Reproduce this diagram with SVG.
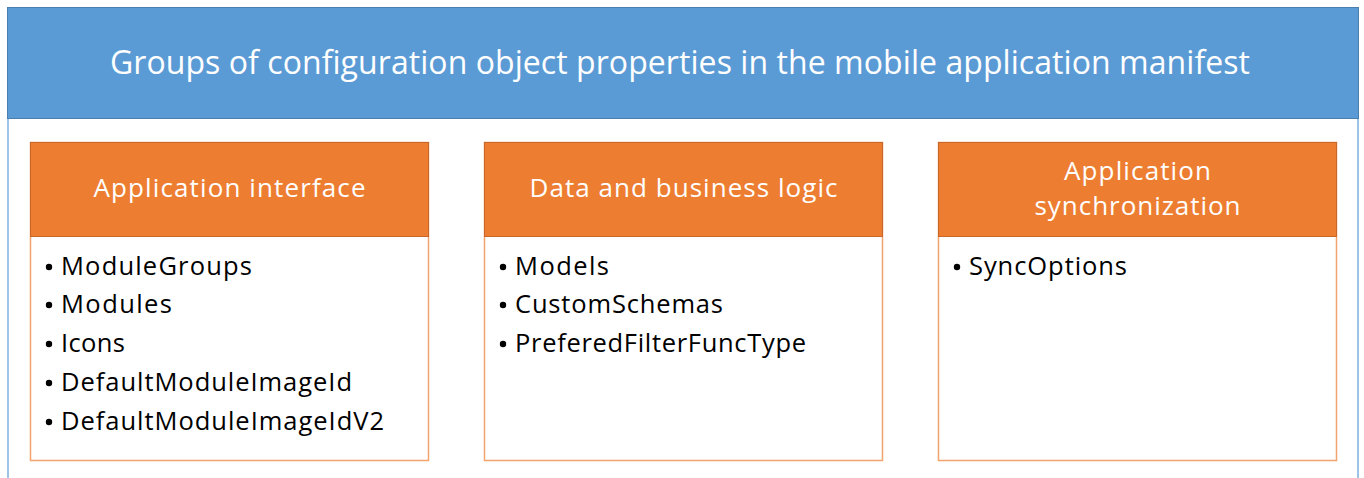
<svg xmlns="http://www.w3.org/2000/svg" width="1364" height="478" viewBox="0 0 1364 478">
<style>
.title{font-family:"Open Sans","Liberation Sans",sans-serif;font-size:32px;fill:#fff}
.hdr{font-family:"Open Sans","Liberation Sans",sans-serif;font-size:26px;fill:#fff;text-anchor:middle}
.item{font-family:"Open Sans","Liberation Sans",sans-serif;font-size:25.5px;fill:#000}
.hbox{fill:#ED7D31;stroke:#C9672A;stroke-width:1}
.bbox{fill:#fff;stroke:#F3A36E;stroke-width:1.5}
.dot{fill:#000}
</style>
<rect width="1364" height="478" fill="#fff"/>
<g id="frame">
<line x1="8" y1="118" x2="8" y2="478" stroke="#9DC3E6" stroke-width="2"/>
<line x1="1358" y1="118" x2="1358" y2="478" stroke="#9DC3E6" stroke-width="2"/>
</g>
<g id="title">
<rect x="7.5" y="7.5" width="1351" height="111" fill="#5B9BD5" stroke="#4A7FB0" stroke-width="1"/>
<text class="title" x="110" y="74" textLength="1140">Groups of configuration object properties in the mobile application manifest</text>
</g>
<g id="interface">
<rect class="bbox" x="30.5" y="142.5" width="398" height="318"/>
<rect class="hbox" x="30.5" y="142.5" width="398" height="94"/>
<text class="hdr" x="229.5" y="197" textLength="272">Application interface</text>
<g class="item">
<circle class="dot" cx="49" cy="267" r="3.2"/><text x="61" y="275" textLength="191">ModuleGroups</text>
<circle class="dot" cx="49" cy="305" r="3.2"/><text x="61" y="313" textLength="111">Modules</text>
<circle class="dot" cx="49" cy="344" r="3.2"/><text x="61" y="352" textLength="64">Icons</text>
<circle class="dot" cx="49" cy="383" r="3.2"/><text x="61" y="391" textLength="291">DefaultModuleImageId</text>
<circle class="dot" cx="49" cy="422" r="3.2"/><text x="61" y="430" textLength="323">DefaultModuleImageIdV2</text>
</g>
</g>
<g id="data">
<rect class="bbox" x="484.5" y="142.5" width="398" height="318"/>
<rect class="hbox" x="484.5" y="142.5" width="398" height="94"/>
<text class="hdr" x="683.5" y="197" textLength="308">Data and business logic</text>
<g class="item">
<circle class="dot" cx="503" cy="267" r="3.2"/><text x="515" y="275" textLength="94">Models</text>
<circle class="dot" cx="503" cy="305" r="3.2"/><text x="515" y="313" textLength="208">CustomSchemas</text>
<circle class="dot" cx="503" cy="344" r="3.2"/><text x="515" y="352" textLength="291">PreferedFilterFuncType</text>
</g>
</g>
<g id="sync">
<rect class="bbox" x="938.5" y="142.5" width="398" height="318"/>
<rect class="hbox" x="938.5" y="142.5" width="398" height="94"/>
<text class="hdr" x="1137.5" y="180" textLength="147">Application</text>
<text class="hdr" x="1137.5" y="215" textLength="206">synchronization</text>
<g class="item">
<circle class="dot" cx="957" cy="267" r="3.2"/><text x="969" y="275" textLength="158">SyncOptions</text>
</g>
</g>
<g id="connectors"/>
</svg>
